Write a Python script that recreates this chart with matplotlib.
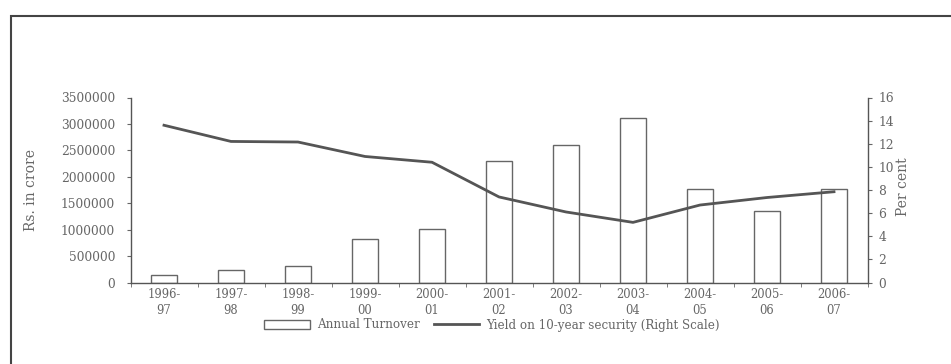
import matplotlib
matplotlib.use("Agg")
import matplotlib.pyplot as plt
from matplotlib.patches import Rectangle
from matplotlib.lines import Line2D
import numpy as np

categories = ["1996-\n97", "1997-\n98", "1998-\n99", "1999-\n00", "2000-\n01", "2001-\n02",
              "2002-\n03", "2003-\n04", "2004-\n05", "2005-\n06", "2006-\n07"]
turnover = [146000, 240000, 303000, 828000, 1017000, 2292000, 2595000, 3119000, 1775000, 1345000, 1768000]
yield10 = [13.6, 12.2, 12.15, 10.9, 10.4, 7.4, 6.1, 5.2, 6.7, 7.35, 7.85]
left_ticks = [0, 500000, 1000000, 1500000, 2000000, 2500000, 3000000, 3500000]
right_ticks = [0, 2, 4, 6, 8, 10, 12, 14, 16]

plt.rcParams['font.family'] = ['DejaVu Serif']
tc = '#666666'

W, H = 951, 364
fig = plt.figure(figsize=(W / 100, H / 100), dpi=100)
# outer frame (cropped on right/bottom)
fig.add_artist(Rectangle((11 / W, -0.1), 1.2, 1 - 16 / H + 0.1, transform=fig.transFigure,
                         fill=False, edgecolor='#444444', linewidth=1.5))

L, R, T, B = 130.5, 867.5, 97.5, 282.5
ax = fig.add_axes([L / W, 1 - B / H, (R - L) / W, (B - T) / H])
x = np.arange(len(categories))
ax.bar(x, turnover, width=0.4, color='white', edgecolor='#666666', linewidth=1.0, zorder=2)
ax.set_xlim(-0.5, len(categories) - 0.5)
ax.set_ylim(0, 3500000)
ax.set_yticks(left_ticks)
ax.set_yticklabels([str(v) for v in left_ticks])
ax.set_xticks(x)
ax.set_xticklabels(categories, fontsize=8.3, color=tc, linespacing=1.3)
ax.set_xticks(np.arange(-0.5, len(categories), 1.0), minor=True)
ax.tick_params(axis='x', which='major', length=0, pad=4)
ax.tick_params(axis='x', which='minor', length=3, color='#666666', direction='out')
ax.tick_params(axis='y', labelsize=8.8, labelcolor=tc, length=3, color='#666666', pad=8)
for s in ['top', 'right']:
    ax.spines[s].set_visible(False)
for s in ['left', 'bottom']:
    ax.spines[s].set_color('#555555')
    ax.spines[s].set_linewidth(1.0)
ax.set_ylabel("Rs. in crore", fontsize=10, color=tc)
ax.yaxis.set_label_coords((38 - L) / (R - L), 0.5)
ax.patch.set_alpha(0)

ax2 = ax.twinx()
ax2.plot(x, yield10, color='#555555', linewidth=2.0, zorder=3)
ax2.set_ylim(0, 16)
ax2.set_yticks(right_ticks)
ax2.tick_params(axis='y', labelsize=8.8, labelcolor=tc, length=3, color='#666666', pad=5)
for s in ['top', 'left', 'bottom']:
    ax2.spines[s].set_visible(False)
ax2.spines['right'].set_color('#555555')
ax2.spines['right'].set_linewidth(1.0)
ax2.set_ylabel("Per cent", fontsize=10, color=tc, rotation=90)
ax2.yaxis.set_label_coords((896 - L) / (R - L), 0.52)

handles = [Rectangle((0, 0), 1, 1, facecolor='white', edgecolor='#666666', linewidth=1.0),
           Line2D([0], [0], color='#555555', linewidth=2.0)]
fig.legend(handles, ["Annual Turnover", "Yield on 10-year security (Right Scale)"],
           loc='center', bbox_to_anchor=(492 / W, 1 - 325 / H), ncol=2, frameon=False,
           fontsize=8.6, labelcolor=tc, handlelength=3.8, handleheight=0.7,
           columnspacing=1.2, handletextpad=0.6)

fig.savefig("out.png", dpi=100)
